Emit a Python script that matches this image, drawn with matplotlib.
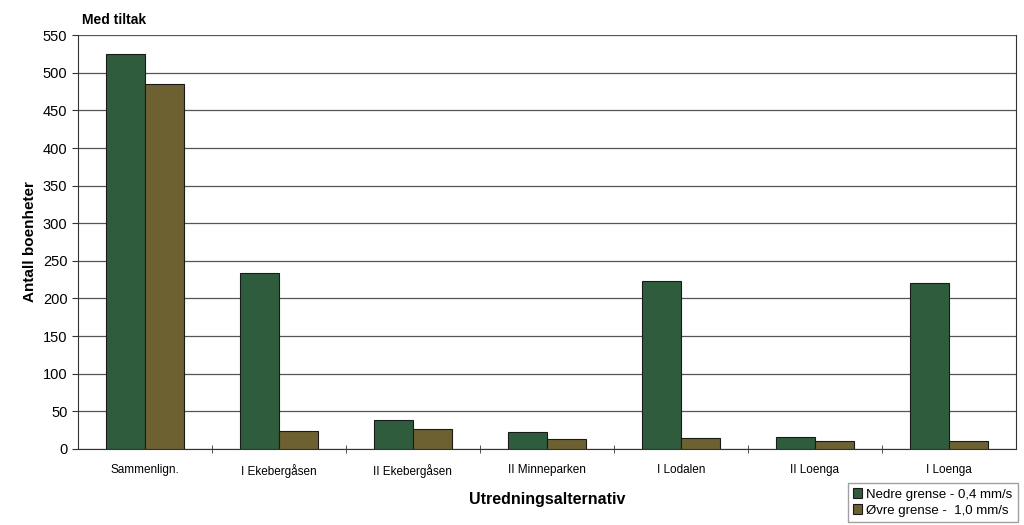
import numpy as np
import matplotlib.pyplot as plt

plt.rcParams['font.family'] = ['Liberation Sans', 'DejaVu Sans']

# data
kategorier = ['Sammenlign.', 'I Ekebergåsen', 'II Ekebergåsen', 'II Minneparken',
              'I Lodalen', 'II Loenga', 'I Loenga']
nedre = [525, 234, 39, 22, 223, 16, 221]
ovre = [485, 24, 27, 13, 14, 11, 11]
serier = ['Nedre grense - 0,4 mm/s', 'Øvre grense -  1,0 mm/s']

fig = plt.figure(figsize=(10.24, 5.25), dpi=100)
ax = fig.add_axes([0.076, 0.145, 0.916, 0.788])

x = np.arange(len(kategorier))
w = 0.29
b1 = ax.bar(x - w / 2, nedre, w, color='#2f5c3c', edgecolor='#1a1a1a', linewidth=0.8, label=serier[0], zorder=3)
b2 = ax.bar(x + w / 2, ovre, w, color='#6d6132', edgecolor='#1a1a1a', linewidth=0.8, label=serier[1], zorder=3)

ax.set_xlim(-0.5, len(kategorier) - 0.5)
ax.set_ylim(0, 550)
ax.set_yticks(np.arange(0, 551, 50))
ax.yaxis.grid(True, color='#555555', linewidth=0.9, zorder=0)
ax.set_xticks(x)
ax.set_xticklabels(kategorier, fontsize=8.5)
ax.tick_params(axis='x', length=0, pad=11)
ax.set_xticks(np.arange(0.5, len(kategorier) - 0.5, 1), minor=True)
ax.tick_params(axis='x', which='minor', direction='inout', length=6, color='#333333')
ax.tick_params(axis='y', labelsize=10.5, color='#333333', length=4)

for s in ['left', 'bottom', 'right']:
    ax.spines[s].set_color('#333333')
ax.spines['top'].set_visible(False)

ax.set_ylabel('Antall boenheter', fontsize=11, fontweight='bold')
ax.set_xlabel('Utredningsalternativ', fontsize=11.5, fontweight='bold', labelpad=10)
fig.text(0.08, 0.955, 'Med tiltak', fontsize=10, fontweight='bold')

leg = fig.legend(handles=[b1, b2], loc='upper left', bbox_to_anchor=(0.828, 0.08),
                 fontsize=9.5, frameon=True, fancybox=False, edgecolor='#888888',
                 handlelength=0.7, handleheight=0.7, handletextpad=0.3,
                 borderpad=0.4, labelspacing=0.3, borderaxespad=0)

fig.savefig('out.png', dpi=100)
